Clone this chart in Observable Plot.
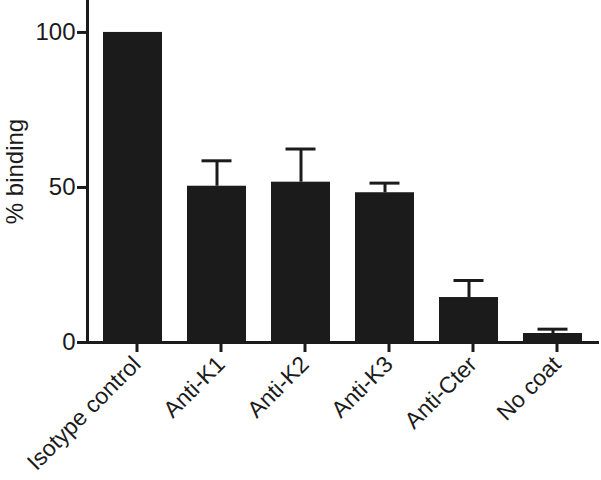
<!DOCTYPE html>
<html>
<head>
<meta charset="utf-8">
<script src="https://cdn.jsdelivr.net/npm/d3@7"></script>
<script src="https://cdn.jsdelivr.net/npm/@observablehq/plot@0.6"></script>
<style>
  html, body { margin: 0; padding: 0; background: #fff; }
  #chart svg { display: block; }
</style>
</head>
<body>
<div id="chart"></div>
<script>
const categories = ["Isotype control", "Anti-K1", "Anti-K2", "Anti-K3", "Anti-Cter", "No coat"];
const meanValues = [100, 50.4, 51.7, 48.3, 14.5, 2.9];
const errorTops = [null, 58.6, 62.4, 51.4, 20, 4.3];
const yTicks = [0, 50, 100];

const data = categories.map((c, i) => ({category: c, value: meanValues[i], err: errorTops[i]}));
const errData = data.filter(d => d.err != null);

const ink = "#1b1b1b";
const plot = Plot.plot({
  width: 601,
  height: 480,
  marginLeft: 87,
  marginRight: 2,
  marginTop: 0,
  marginBottom: 138,
  style: {fontFamily: "'Liberation Sans', Arial, Helvetica, sans-serif", color: ink, background: "#fff"},
  x: {domain: categories, paddingInner: 0.294, paddingOuter: 0.16},
  y: {domain: [0, 110.3]},
  marks: [
    Plot.barY(data, {x: "category", y: "value", fill: ink}),
    Plot.ruleX(errData, {x: "category", y1: "value", y2: "err", stroke: ink, strokeWidth: 3}),
    Plot.tickY(errData, {x: "category", y: "err", stroke: ink, strokeWidth: 3, insetLeft: 14.5, insetRight: 14.5}),
    Plot.ruleY([0], {stroke: ink, strokeWidth: 3}),
    Plot.frame({anchor: "left", stroke: ink, strokeWidth: 3}),
    Plot.axisY({ticks: yTicks, tickSize: 10, tickPadding: 2, strokeWidth: 3, fontSize: 24,
      label: "% binding", labelAnchor: "center", labelOffset: 82, labelArrow: "none"}),
    Plot.axisX({tickSize: 10, strokeWidth: 3, fontSize: 23, tickRotate: -45, tickPadding: 8, dx: 4, label: null})
  ]
});
document.getElementById("chart").appendChild(plot);
</script>
</body>
</html>
